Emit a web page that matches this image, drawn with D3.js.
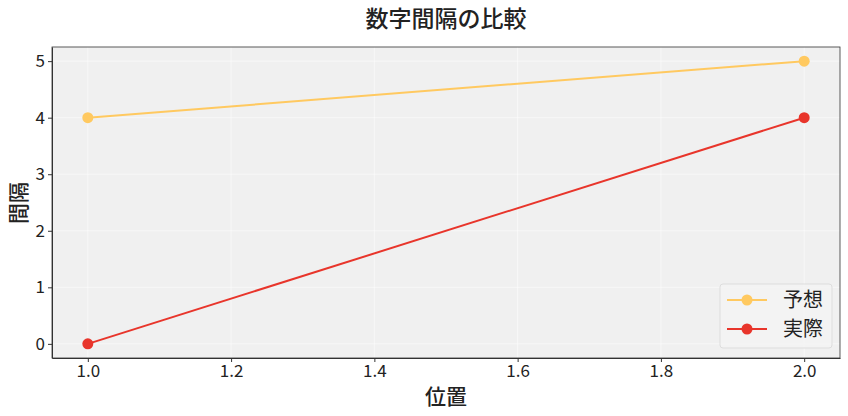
<!DOCTYPE html>
<html><head><meta charset="utf-8">
<script src="https://cdn.jsdelivr.net/npm/d3@7"></script>
<style>body{margin:0;background:#fff}text{font-family:"Noto Sans CJK JP",sans-serif}</style>
</head><body>
<svg id="chart" width="848" height="416"></svg>
<script>
const xs = [1.0, 2.0];
const forecast = [4, 5];
const actual = [0, 4];
const xTicks = [1.0, 1.2, 1.4, 1.6, 1.8, 2.0];
const yTicks = [0, 1, 2, 3, 4, 5];
const series = [
  { name: "予想", values: forecast, color: "#ffc960" },
  { name: "実際", values: actual, color: "#e8352b" }
];

const svg = d3.select("#chart");
const m = { left: 52, right: 8, top: 47, bottom: 58 };
const w = 848 - m.left - m.right, h = 416 - m.top - m.bottom;
const x = d3.scaleLinear().domain([0.95, 2.05]).range([0, w]);
const y = d3.scaleLinear().domain([-0.25, 5.25]).range([h, 0]);
const g = svg.append("g").attr("transform", `translate(${m.left},${m.top})`);

g.append("rect").attr("width", w).attr("height", h).attr("fill", "#f0f0f0");
g.selectAll(".gx").data(xTicks).join("line")
  .attr("x1", d => x(d)).attr("x2", d => x(d)).attr("y1", 0).attr("y2", h)
  .attr("stroke", "#fff").attr("stroke-opacity", 0.5);
g.selectAll(".gy").data(yTicks).join("line")
  .attr("y1", d => y(d)).attr("y2", d => y(d)).attr("x1", 0).attr("x2", w)
  .attr("stroke", "#fff").attr("stroke-opacity", 0.5);

const xa = g.append("g").attr("transform", `translate(0,${h})`)
  .call(d3.axisBottom(x).tickValues(xTicks).tickFormat(d3.format(".1f")).tickSize(4).tickSizeOuter(0));
const ya = g.append("g").call(d3.axisLeft(y).tickValues(yTicks).tickFormat(d3.format("d")).tickSize(4).tickSizeOuter(0));
[xa, ya].forEach(a => {
  a.select(".domain").attr("stroke", "#333");
  a.selectAll("text").attr("font-size", 17).attr("fill", "#222");
  a.selectAll("line").attr("stroke", "#333");
});
g.append("rect").attr("width", w).attr("height", h).attr("fill", "none").attr("stroke", "#333").attr("stroke-width", 0.8);

const line = d3.line().x((d, i) => x(xs[i])).y(d => y(d));
series.forEach(s => {
  g.append("path").datum(s.values).attr("d", line).attr("fill", "none")
    .attr("stroke", s.color).attr("stroke-width", 2);
  g.selectAll(null).data(s.values).join("circle")
    .attr("cx", (d, i) => x(xs[i])).attr("cy", d => y(d)).attr("r", 5.5).attr("fill", s.color);
});

svg.append("text").attr("x", 446).attr("y", 27).attr("text-anchor", "middle")
  .attr("font-size", 23).attr("font-weight", 500).attr("fill", "#222").text("数字間隔の比較");
svg.append("text").attr("x", 446).attr("y", 404).attr("text-anchor", "middle")
  .attr("font-size", 21).attr("font-weight", 500).attr("fill", "#222").text("位置");
svg.append("text").attr("transform", "translate(26,203) rotate(-90)").attr("text-anchor", "middle")
  .attr("font-size", 21).attr("font-weight", 500).attr("fill", "#222").text("間隔");

const lg = svg.append("g").attr("transform", "translate(720,284)");
lg.append("rect").attr("width", 112).attr("height", 64).attr("rx", 3)
  .attr("fill", "#f4f4f4").attr("fill-opacity", 0.8).attr("stroke", "#ddd");
series.forEach((s, i) => {
  const yy = 16 + i * 29;
  lg.append("line").attr("x1", 7).attr("x2", 47).attr("y1", yy).attr("y2", yy).attr("stroke", s.color).attr("stroke-width", 2);
  lg.append("circle").attr("cx", 27).attr("cy", yy).attr("r", 5.5).attr("fill", s.color);
  lg.append("text").attr("x", 63).attr("y", yy + 7).attr("font-size", 20).attr("fill", "#222").text(s.name);
});
</script>
</body></html>
